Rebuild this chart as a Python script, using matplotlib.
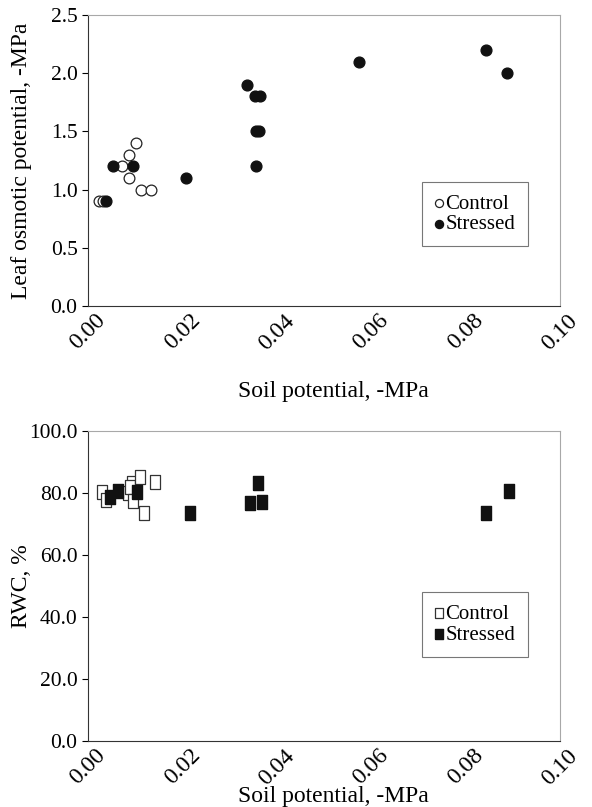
import numpy as np
import matplotlib.pyplot as plt

plt.rcParams['font.family'] = ['Liberation Serif', 'DejaVu Serif']

# top panel: leaf osmotic potential
ctrl_x1 = [0.0023, 0.0031, 0.0073, 0.0086, 0.0102, 0.0088, 0.0113, 0.0133]
ctrl_y1 = [0.9, 0.9, 1.2, 1.3, 1.4, 1.1, 1.0, 1.0]
str_x1 = [0.0038, 0.0053, 0.0095, 0.0208, 0.0356, 0.0357, 0.0362,
          0.0355, 0.0365, 0.0337, 0.0574, 0.0843, 0.0888]
str_y1 = [0.9, 1.2, 1.2, 1.1, 1.2, 1.5, 1.5, 1.8, 1.8, 1.9, 2.1, 2.2, 2.0]

# bottom panel: RWC
ctrl_x2 = [0.0030, 0.0038, 0.0085, 0.0093, 0.0090, 0.0096, 0.0110, 0.0143, 0.0119]
ctrl_y2 = [80.4, 77.7, 80.0, 83.3, 81.8, 77.5, 85.3, 83.6, 73.5]
str_x2 = [0.0047, 0.0064, 0.0104, 0.0216, 0.0343, 0.0361, 0.0368, 0.0843, 0.0892]
str_y2 = [78.8, 80.7, 80.4, 73.6, 76.7, 83.1, 77.2, 73.5, 80.7]

xticks = np.arange(0, 0.101, 0.02)

fig = plt.figure(figsize=(5.92, 8.07), dpi=100)
ax1 = fig.add_axes([0.1486, 0.6208, 0.797, 0.3606])
ax2 = fig.add_axes([0.1486, 0.0818, 0.797, 0.3840])

def style(ax, xlab_y, ylab_x):
    for s in ['top', 'right']:
        ax.spines[s].set_color('#a8a8a8')
    for s in ['left', 'bottom']:
        ax.spines[s].set_color('#333333')
    ax.set_xlim(0, 0.10)
    ax.set_xticks(xticks)
    ax.set_xticklabels([f'{v:.2f}' for v in xticks], rotation=45, ha='center',
                       fontsize=17)
    ax.tick_params(axis='y', labelsize=15.5, length=4, direction='out')
    ax.tick_params(axis='x', length=0, pad=3)
    ax.set_xlabel('Soil potential, -MPa', fontsize=17)
    ax.xaxis.set_label_coords(0.52, xlab_y)
    ax.yaxis.set_label_coords(ylab_x, 0.5)

def legend(ax, y):
    leg = ax.legend(loc='upper left', bbox_to_anchor=(0.708, y), fontsize=15,
                    frameon=True, fancybox=False, edgecolor='#555555',
                    handlelength=0.5, handletextpad=0.05, borderpad=0.58,
                    labelspacing=0.05, borderaxespad=0, markerscale=0.75)
    leg.get_frame().set_linewidth(0.8)

ax1.scatter(ctrl_x1, ctrl_y1, s=60, facecolors='white', edgecolors='#222222',
            linewidths=0.9, label='Control', zorder=3)
ax1.scatter(str_x1, str_y1, s=60, color='#111111', label='Stressed', zorder=4)
style(ax1, -0.258, -0.119)
ax1.set_ylim(0, 2.5)
ax1.set_yticks(np.arange(0, 2.51, 0.5))
ax1.set_yticklabels([f'{v:.1f}' for v in np.arange(0, 2.51, 0.5)])
ax1.set_ylabel('Leaf osmotic potential, -MPa', fontsize=17)
legend(ax1, 0.426)

sq = [(-0.8, -1), (0.8, -1), (0.8, 1), (-0.8, 1), (-0.8, -1)]
ax2.scatter(ctrl_x2, ctrl_y2, s=90, marker=sq, facecolors='white', edgecolors='#333333',
            linewidths=0.9, label='Control', zorder=3)
ax2.scatter(str_x2, str_y2, s=90, marker=sq, color='#111111', label='Stressed', zorder=4)
style(ax2, -0.145, -0.119)
ax2.set_ylim(0, 100)
ax2.set_yticks(np.arange(0, 101, 20))
ax2.set_yticklabels([f'{v:.1f}' for v in np.arange(0, 101, 20)])
ax2.set_ylabel('RWC, %', fontsize=17)
legend(ax2, 0.48)

fig.savefig('out.png', dpi=100)
